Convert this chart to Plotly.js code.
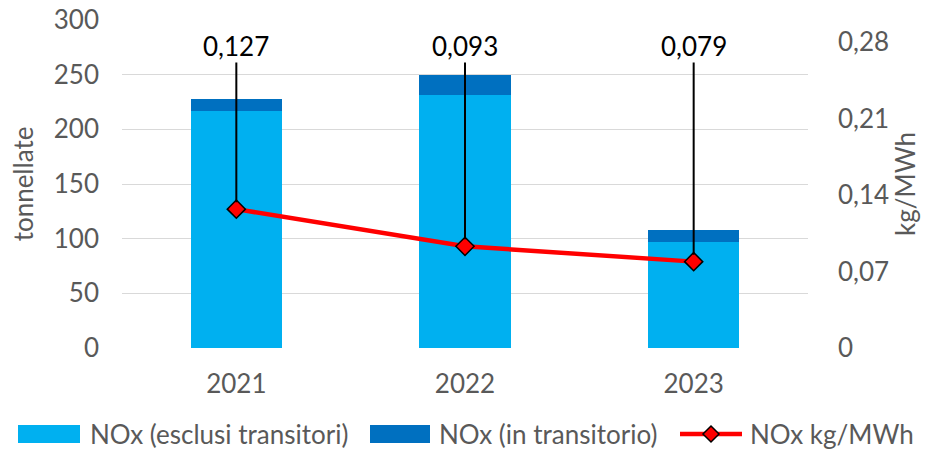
<!DOCTYPE html>
<html>
<head>
<meta charset="utf-8">
<script src="https://cdn.plot.ly/plotly-3.0.1.min.js"></script>
<style>html,body{margin:0;padding:0;background:#fff;}#chart{width:932px;height:452px;}</style>
</head>
<body>
<div id="chart"></div>
<script>
const years = [2021, 2022, 2023];
const noxEsclusi = [217, 231, 97];
const noxTransitorio = [11, 19, 11];
const noxKgMWh = [0.127, 0.093, 0.079];
const rightTicks = [0, 0.07, 0.14, 0.21, 0.28];
const seriesNames = ['NOx (esclusi transitori)', 'NOx (in transitorio)', 'NOx kg/MWh'];
const seriesColors = ['#00B0F0', '#0070C0', '#FF0000'];

const FONT = 'Lato, "Open Sans", sans-serif';
const GRAY = '#595959';
const FS = 26;

// plot area in pixels
const PL = 122, PR = 808, PT = 20, PB = 348;
const W = 932, H = 452;
const px = x => (x - PL) / (PR - PL);
const py = y => (PB - y) / (PB - PT);

const traces = [
  {type: 'bar', name: seriesNames[0], x: years, y: noxEsclusi,
   marker: {color: seriesColors[0]}, hoverinfo: 'skip'},
  {type: 'bar', name: seriesNames[1], x: years, y: noxTransitorio,
   marker: {color: seriesColors[1]}, hoverinfo: 'skip'},
  {type: 'scatter', mode: 'lines+markers', name: seriesNames[2], x: years, y: noxKgMWh, yaxis: 'y2',
   line: {color: seriesColors[2], width: 4.5},
   marker: {symbol: 'diamond', size: 14, color: seriesColors[2], line: {color: '#000', width: 1.5}}}
];

const annotations = years.map((yr, i) => ({
  x: yr, y: noxKgMWh[i], xref: 'x', yref: 'y2',
  ax: 0, ay: 0.2762, axref: 'pixel', ayref: 'y2',
  text: noxKgMWh[i].toFixed(3).replace('.', ','),
  showarrow: true, arrowhead: 0, arrowwidth: 2, arrowcolor: '#000', standoff: 7,
  font: {family: FONT, size: FS, color: '#000'}, borderpad: 0
}));

// custom legend (wide swatches like the original)
const legY = py(434);
const legItems = [
  {sx0: 18, sx1: 80, tx: 88},
  {sx0: 370, sx1: 430, tx: 437},
  {sx0: 680, sx1: 742, tx: 748}
];
const shapes = [];
legItems.forEach((it, i) => {
  if (i < 2) {
    shapes.push({type: 'rect', xref: 'paper', yref: 'paper',
      x0: px(it.sx0), x1: px(it.sx1), y0: py(425), y1: py(443),
      fillcolor: seriesColors[i], line: {width: 0}});
  } else {
    shapes.push({type: 'line', xref: 'paper', yref: 'paper',
      x0: px(it.sx0), x1: px(it.sx1), y0: legY, y1: legY,
      line: {color: seriesColors[i], width: 4.5}});
    const cx = (it.sx0 + it.sx1) / 2, cy = 434, r = 8;
    shapes.push({type: 'path', xref: 'paper', yref: 'paper',
      path: `M ${px(cx)} ${py(cy - r)} L ${px(cx + r)} ${py(cy)} L ${px(cx)} ${py(cy + r)} L ${px(cx - r)} ${py(cy)} Z`,
      fillcolor: seriesColors[i], line: {color: '#000', width: 1.5}});
  }
  annotations.push({xref: 'paper', yref: 'paper', x: px(it.tx), y: legY,
    xanchor: 'left', yanchor: 'middle', showarrow: false, text: seriesNames[i],
    font: {family: FONT, size: FS, color: GRAY}});
});

const layout = {
  width: W, height: H,
  margin: {l: PL, r: W - PR, t: PT, b: H - PB, autoexpand: false},
  barmode: 'stack', bargap: 0.6,
  separators: ',.',
  paper_bgcolor: '#fff', plot_bgcolor: '#fff',
  font: {family: FONT, size: FS, color: GRAY},
  showlegend: false,
  xaxis: {type: 'linear', range: [2020.5, 2023.5], tickvals: years, tickformat: 'd',
          showgrid: false, zeroline: false, showline: false, ticklabelstandoff: 18,
          ticks: '', tickfont: {size: FS, color: GRAY}},
  yaxis: {range: [0, 300], dtick: 50, showgrid: true, gridcolor: '#D9D9D9', gridwidth: 1,
          zeroline: false, showline: false, ticks: '', ticklabelstandoff: 22,
          tickfont: {size: FS, color: GRAY},
          title: {text: 'tonnellate', font: {size: FS, color: GRAY}, standoff: 12}},
  yaxis2: {overlaying: 'y', side: 'right', range: [0, 0.3], tickvals: rightTicks,
           tickformat: '.2~f', showgrid: false, zeroline: false, showline: false, ticks: '',
           ticklabelstandoff: 29,
           tickfont: {size: FS, color: GRAY},
           title: {text: 'kg/MWh', font: {size: FS, color: GRAY}, standoff: 8}},
  shapes: shapes,
  annotations: annotations
};

Plotly.newPlot('chart', traces, layout, {displayModeBar: false, staticPlot: true});
</script>
</body>
</html>
